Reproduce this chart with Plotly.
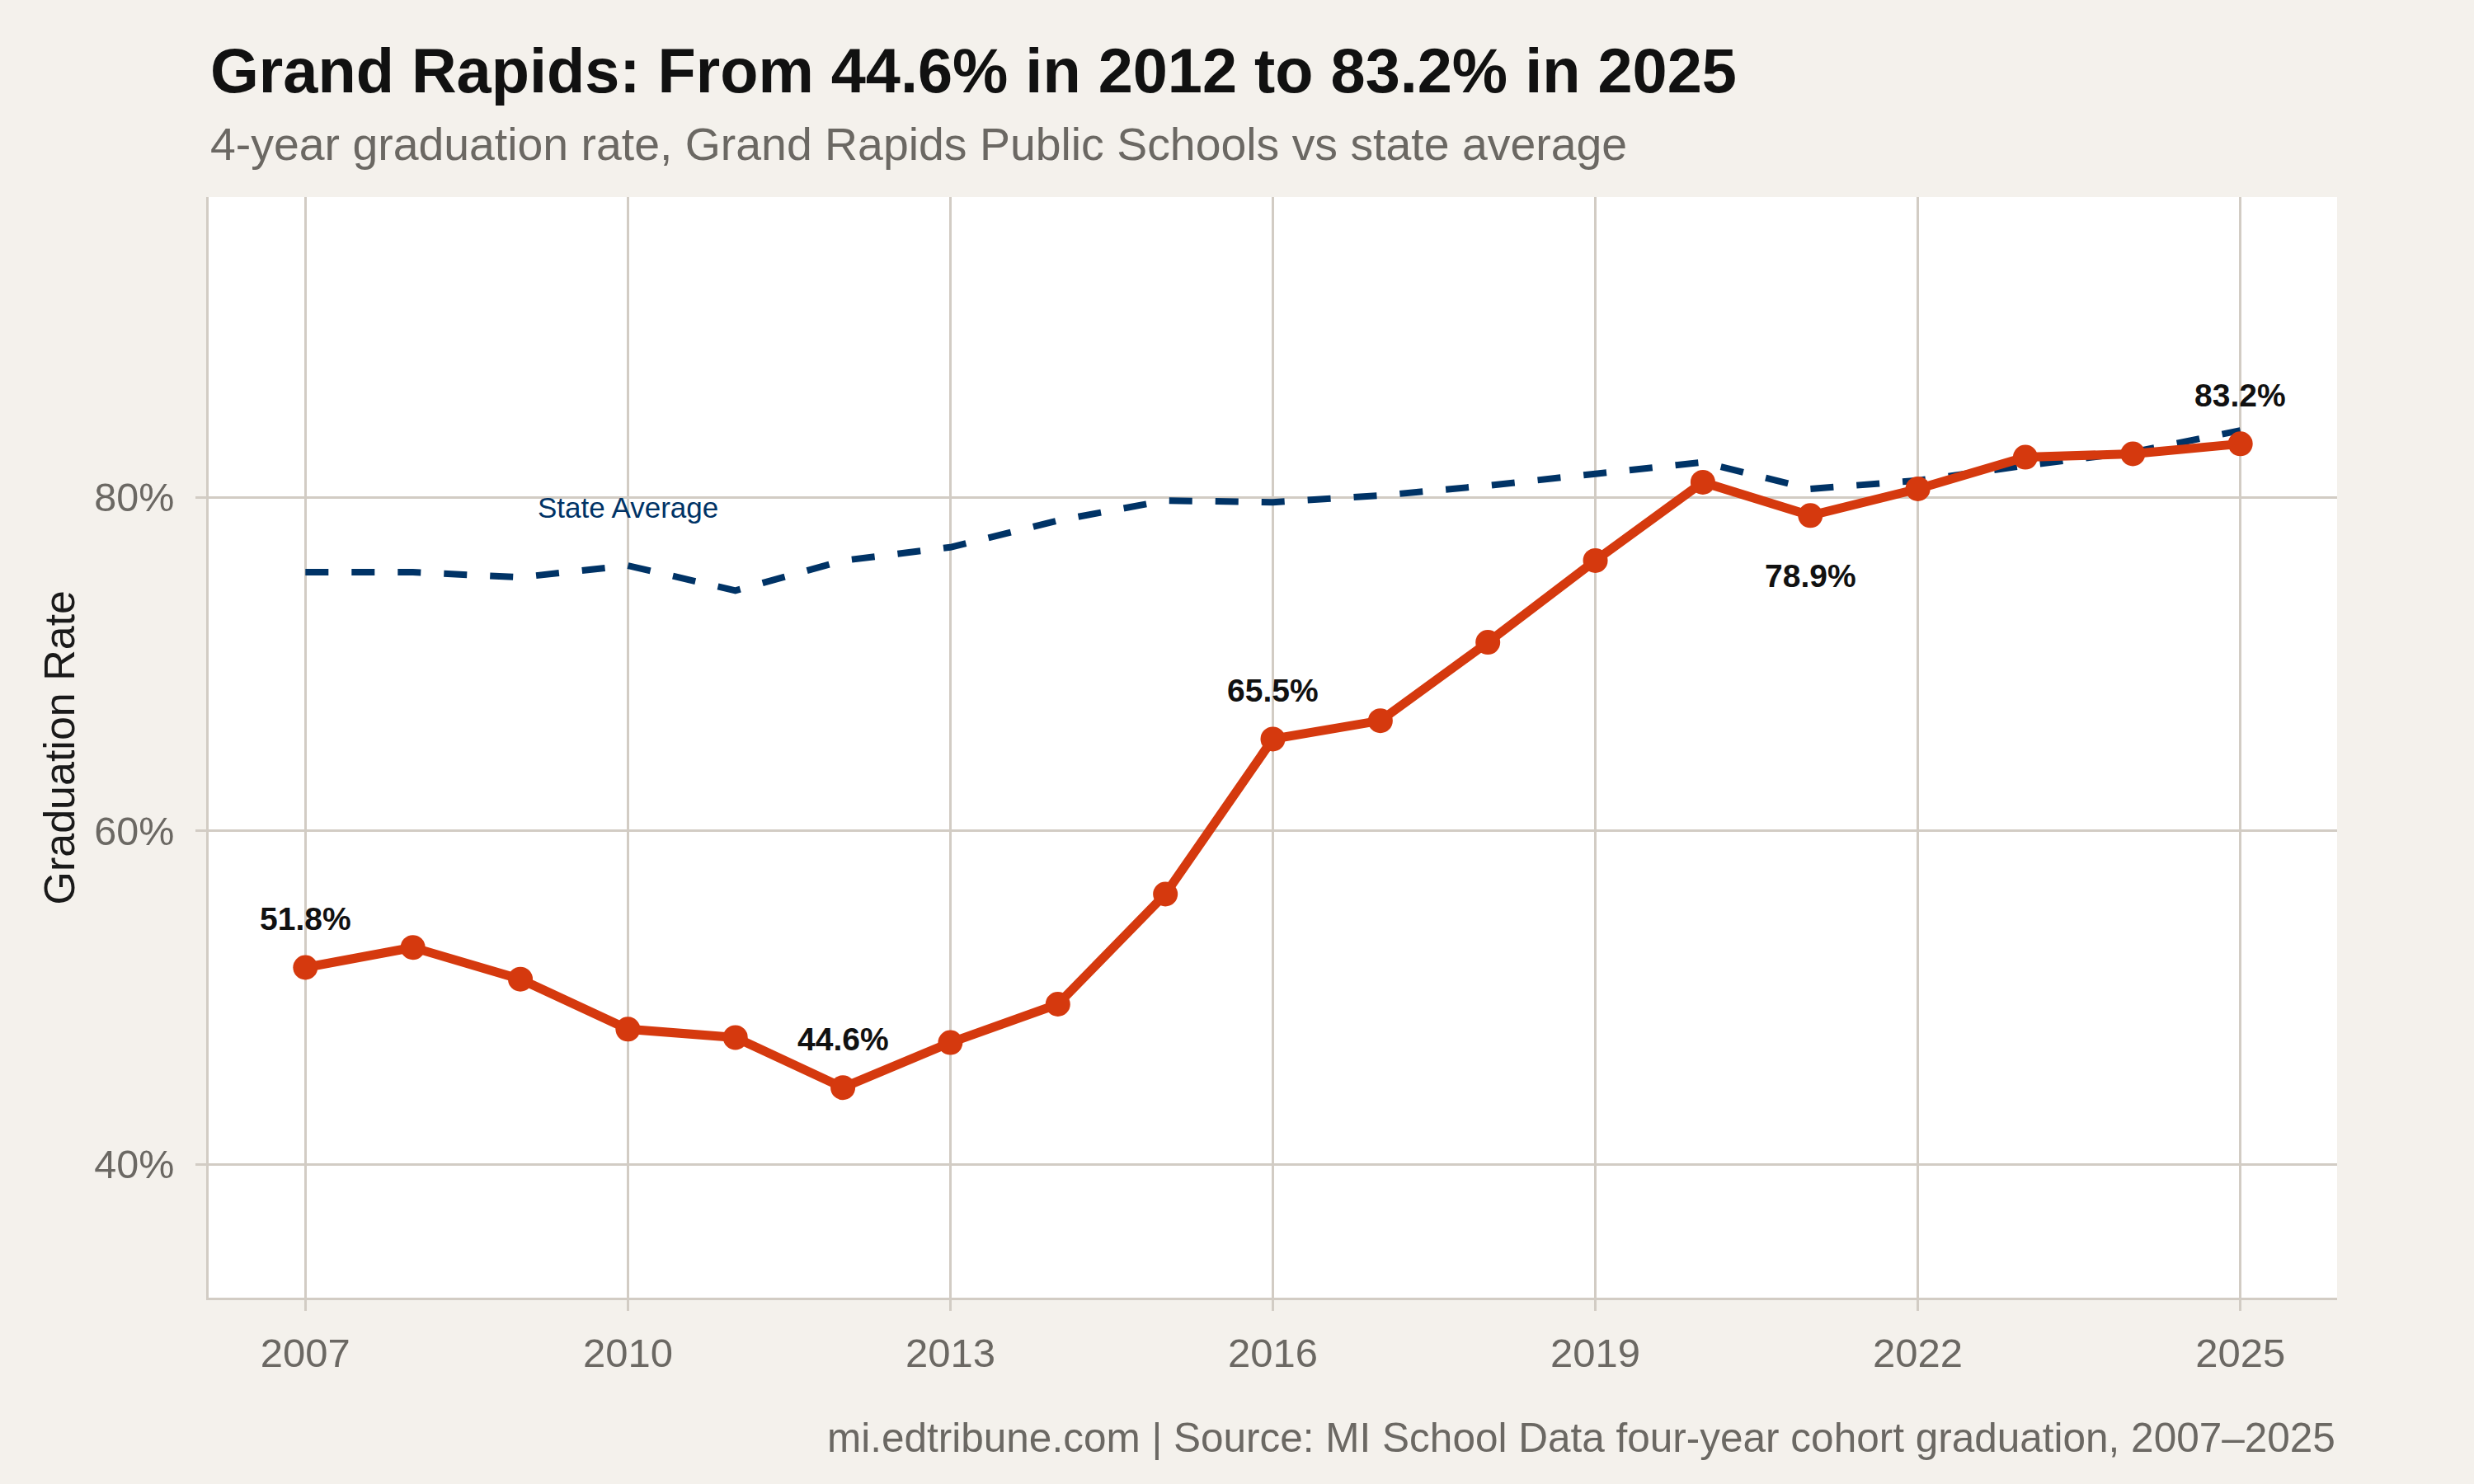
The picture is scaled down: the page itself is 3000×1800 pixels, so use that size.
import plotly.graph_objects as go

years = list(range(2007, 2026))
grand_rapids = [51.8, 53.0, 51.1, 48.1, 47.6, 44.6, 47.3, 49.6, 56.2, 65.5,
                66.6, 71.3, 76.2, 80.9, 78.9, 80.5, 82.4, 82.6, 83.2]
state_avg = [75.5, 75.5, 75.2, 75.9, 74.4, 76.2, 77.0, 78.6, 79.8, 79.7,
             80.1, 80.7, 81.4, 82.1, 80.5, 81.0, 81.9, 82.7, 84.0]
x_ticks = [2007, 2010, 2013, 2016, 2019, 2022, 2025]
y_ticks = [40, 60, 80]
y_tick_labels = ["40%", "60%", "80%"]
label_above = [2007, 2012, 2016, 2025]
label_below = [2021]

RED = "#D5390E"
NAVY = "#003366"
BG = "#F4F1EC"
GRID = "#D2CCC4"
GRAY = "#6B6863"
FONT = "Liberation Sans, Arial, Helvetica, sans-serif"

fig = go.Figure()
fig.add_trace(go.Scatter(
    x=years, y=state_avg, mode="lines", name="State Average",
    line=dict(color=NAVY, width=8, dash="28px,28px"),
))
fig.add_trace(go.Scatter(
    x=years, y=grand_rapids, mode="lines+markers", name="Grand Rapids",
    line=dict(color=RED, width=11),
    marker=dict(color=RED, size=30, line=dict(width=0)),
))

annotations = []
for yr in label_above + label_below:
    v = grand_rapids[years.index(yr)]
    annotations.append(dict(
        x=yr, y=v, xref="x", yref="y", text=f"<b>{v:.1f}%</b>", showarrow=False,
        xanchor="center", yanchor="middle",
        yshift=59 if yr in label_above else -73,
        font=dict(family=FONT, size=39, color="#111111"),
    ))

annotations.append(dict(
    x=2010, y=79.4, xref="x", yref="y", text="State Average", showarrow=False,
    xanchor="center", yanchor="middle",
    font=dict(family=FONT, size=35, color=NAVY),
))

annotations += [
    dict(x=0, y=1.1150, xref="paper", yref="paper", xanchor="left", yanchor="middle",
         text="<b>Grand Rapids: From 44.6% in 2012 to 83.2% in 2025</b>", showarrow=False,
         font=dict(family=FONT, size=75.7, color="#111111")),
    dict(x=0, y=1.0483, xref="paper", yref="paper", xanchor="left", yanchor="middle",
         text="4-year graduation rate, Grand Rapids Public Schools vs state average",
         showarrow=False, font=dict(family=FONT, size=55.4, color=GRAY)),
    dict(x=1, y=-0.1273, xref="paper", yref="paper", xanchor="right", yanchor="middle",
         text="mi.edtribune.com | Source: MI School Data four-year cohort graduation, 2007\u20132025",
         showarrow=False, font=dict(family=FONT, size=49.5, color=GRAY)),
    dict(x=-0.0705, y=0.5, xref="paper", yref="paper", xanchor="center", yanchor="middle",
         text="Graduation Rate", textangle=-90, showarrow=False,
         font=dict(family=FONT, size=52, color="#1A1A1A")),
]

fig.update_layout(
    width=3000, height=1800,
    margin=dict(l=253, r=166, t=239, b=226, pad=0),
    paper_bgcolor=BG, plot_bgcolor="#FFFFFF",
    showlegend=False,
    annotations=annotations,
    font=dict(family=FONT),
)
fig.update_xaxes(
    range=[2006.1, 2025.9], tickvals=x_ticks, ticktext=[str(t) for t in x_ticks],
    showgrid=True, gridcolor=GRID, gridwidth=2.5, zeroline=False,
    showline=True, linecolor=GRID, linewidth=3,
    ticks="outside", ticklen=13, tickwidth=2.5, tickcolor=GRID,
    tickfont=dict(family=FONT, size=49, color=GRAY), ticklabelstandoff=9,
)
fig.update_yaxes(
    range=[32, 98], tickvals=y_ticks, ticktext=y_tick_labels,
    showgrid=True, gridcolor=GRID, gridwidth=2.5, zeroline=False,
    showline=True, linecolor=GRID, linewidth=3,
    ticks="outside", ticklen=13, tickwidth=2.5, tickcolor=GRID,
    tickfont=dict(family=FONT, size=48.5, color=GRAY), ticklabelstandoff=16,
)

fig.write_html("out.html")
